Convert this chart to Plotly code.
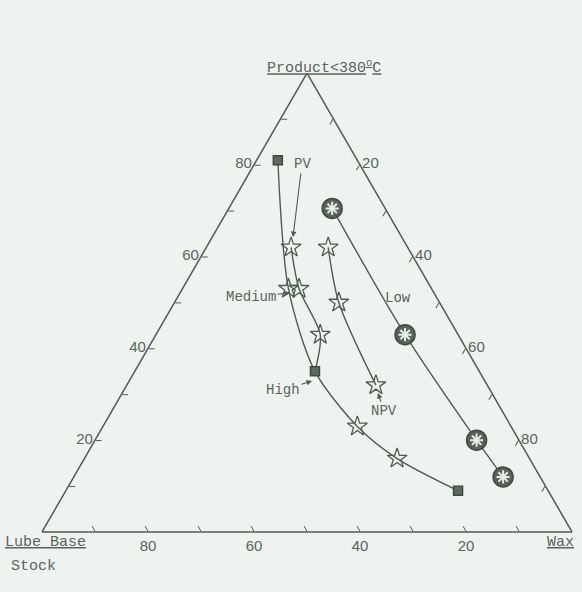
import plotly.graph_objects as go

# ---- data (percent: a = Product<380C, b = Lube Base Stock, c = Wax) ----
curve_left_a = [81, 53, 35, 23, 16, 9]
curve_left_b = [15, 27, 31, 29, 25, 17]
curve_left_c = [4, 20, 34, 48, 59, 74]

curve_right_a = [62, 53, 43, 35]
curve_right_b = [22, 25, 26, 31]
curve_right_c = [16, 22, 31, 34]

square_a = [81, 35, 9]
square_b = [15, 31, 17]
square_c = [4, 34, 74]

pv_star_a = [62, 53, 53, 43, 23, 16]
pv_star_b = [22, 27, 25, 26, 29, 25]
pv_star_c = [16, 20, 22, 31, 48, 59]

npv_a = [62, 50, 32]
npv_b = [15, 19, 21]
npv_c = [23, 31, 47]

low_a = [70.5, 43, 20, 12]
low_b = [10, 10, 8, 7]
low_c = [19.5, 47, 72, 81]

tick_vals = [10, 20, 30, 40, 50, 60, 70, 80, 90]
tick_text = ["", "20", "", "40", "", "60", "", "80", ""]

INK = "#4f5c53"
TXT = "#5a645d"
BG = "#eff3ef"
MONO = "Liberation Mono"
SANS = "Liberation Sans"

fig = go.Figure()


def line_trace(a, b, c):
    return go.Scatterternary(a=a, b=b, c=c, mode="lines",
                             line=dict(color=INK, width=1.4, shape="spline", smoothing=0.8),
                             hoverinfo="skip", showlegend=False)


fig.add_trace(line_trace(curve_left_a, curve_left_b, curve_left_c))
fig.add_trace(line_trace(curve_right_a, curve_right_b, curve_right_c))
fig.add_trace(line_trace(npv_a, npv_b, npv_c))
fig.add_trace(line_trace(low_a, low_b, low_c))

star_marker = dict(symbol="star-open", size=15, color=INK, line=dict(width=1.3, color=INK))
fig.add_trace(go.Scatterternary(a=pv_star_a, b=pv_star_b, c=pv_star_c, mode="markers",
                                marker=star_marker, showlegend=False))
fig.add_trace(go.Scatterternary(a=npv_a, b=npv_b, c=npv_c, mode="markers",
                                marker=star_marker, showlegend=False))
fig.add_trace(go.Scatterternary(a=square_a, b=square_b, c=square_c, mode="markers",
                                marker=dict(symbol="square", size=9, color="#5d6a60",
                                            line=dict(width=1.5, color="#3f4a42")),
                                showlegend=False))
fig.add_trace(go.Scatterternary(a=low_a, b=low_b, c=low_c, mode="markers",
                                marker=dict(symbol="circle", size=20, color="#56625a",
                                            line=dict(width=1.5, color="#3f4a42")),
                                showlegend=False))
fig.add_trace(go.Scatterternary(a=low_a, b=low_b, c=low_c, mode="markers",
                                marker=dict(symbol="asterisk-open", size=11, color="#e8ece8",
                                            line=dict(width=2, color="#e8ece8")),
                                showlegend=False))

axis_common = dict(
    min=0, linecolor=INK, linewidth=1.5, showgrid=False,
    ticks="inside", ticklen=6, tickcolor=INK, tickwidth=1.3,
    tickmode="array", tickvals=tick_vals, ticktext=tick_text,
    tickfont=dict(family=SANS, size=15, color=TXT),
    title=dict(text=""),
)

L, R, T, B = 42, 10, 73, 60
W, H = 582, 592
GW, GH = W - L - R, H - T - B


def paper(px, py):
    return (px - L) / GW, (T + GH - py) / GH


annots = []
FONT = dict(family=MONO, size=14, color=TXT)


def label(text, tx, ty, hx=None, hy=None, xanchor="center", size=14):
    f = dict(FONT, size=size)
    if hx is None:
        x, y = paper(tx, ty)
        annots.append(dict(x=x, y=y, xref="paper", yref="paper", text=text, showarrow=False,
                           xanchor=xanchor, font=f))
    else:
        x, y = paper(hx, hy)
        annots.append(dict(x=x, y=y, xref="paper", yref="paper", text=text, showarrow=True,
                           ax=tx - hx, ay=ty - hy, arrowhead=2, arrowsize=1, arrowwidth=1.1,
                           arrowcolor=INK, font=f))


# point labels (text centre, arrow head)
label("PV", 302, 164, 293, 237)
label("Medium", 251, 297, 290, 293)
label("High", 283, 390, 312, 381)
label("NPV", 384, 411, 378, 393)
label("Low", 398, 298)

# corner titles
label("<u>Product&lt;380<sup>o</sup>C</u>", 324, 55, size=15)
label("<u>Lube Base</u>", 3, 553, xanchor="left", size=15)
label("Stock", 9, 577, xanchor="left", size=15)
label("<u>Wax</u>", 560, 553, size=15)

fig.update_layout(
    width=W, height=H,
    margin=dict(l=L, r=R, t=T, b=B),
    paper_bgcolor=BG, plot_bgcolor=BG,
    showlegend=False,
    ternary=dict(sum=100, bgcolor=BG,
                 aaxis=axis_common, baxis=axis_common, caxis=axis_common),
    annotations=annots,
)

fig.write_html("out.html", config={"displayModeBar": False},
               post_script="document.body.style.margin='0';")
